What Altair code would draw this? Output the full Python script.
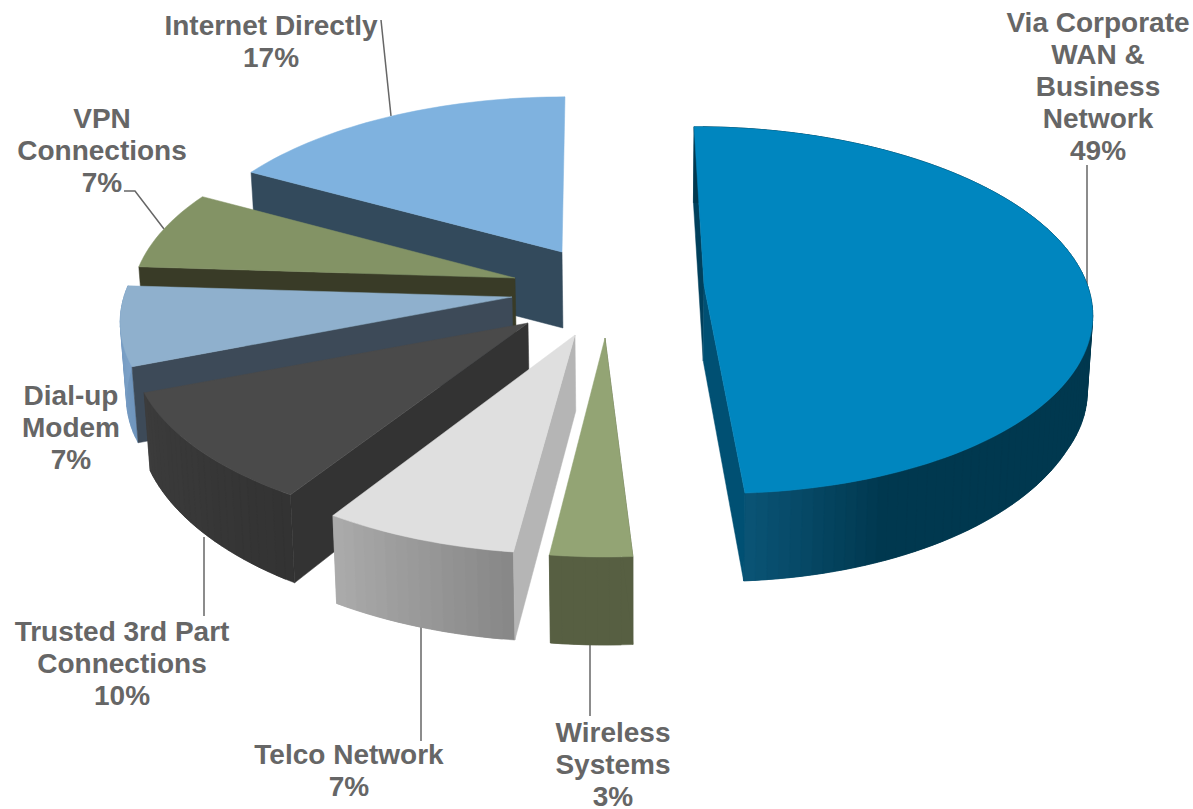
import math
import altair as alt

# Survey shares, clockwise from twelve o'clock
categories = [
    "Via Corporate\nWAN &\nBusiness\nNetwork",
    "Wireless\nSystems",
    "Telco Network",
    "Trusted 3rd Part\nConnections",
    "Dial-up\nModem",
    "VPN\nConnections",
    "Internet Directly",
]
shares = [49, 3, 7, 10, 7, 7, 17]

# Exploded position and shape of each wedge on the page
tips_x = [704, 605, 575, 528, 512, 515, 562]
tips_y = [285, 338, 335, 323, 297, 278, 252]
stretch_x = [0.968, 0.97, 0.993, 0.99, 0.98, 0.96, 0.96]
stretch_y = [1.0, 1.05, 1.05, 1.0, 1.0, 1.0, 0.98]
shear = [-11.3, 0, 4, 0, 0, 0, 3.4]

# Colours: top face, the wall along the first radial edge (the last one for the
# big wedge), and outer wall from first to last angle; far wedges show no outer wall
top_colors = ["#0086BF", "#93A474", "#DFDFDF", "#4A4A4A", "#8FB0CD", "#839365", "#7FB2DF"]
radial_wall = ["#005073", "#575F42", "#B5B5B5", "#333333", "#3D4A58", "#393B27", "#334A5C"]
BACK_WALL = "#00405C"
outer_wall = [
    ["#00384F"] * 9 + ["#0B5577"],
    ["#575F42", "#575F42"],
    ["#888888", "#ACACAC"],
    ["#333333", "#3C3C3C"],
    ["#6F95BD", "#7FA3C9"],
    [],
    [],
]

# Back-to-front painting order
paint_order = [6, 5, 4, 3, 1, 2, 0]

# Perspective of the tilted disc
RADIUS_X, RADIUS_Y, TILT = 396, 180, 0.137
VANISH_X = 640

# Label placement (centre x, first-line y) and leader lines
label_x = [1098, 613, 349, 122, 71, 102, 271]
label_y = [23.5, 733.5, 756, 633, 397, 119.5, 26.5]
LINE_HEIGHT = 32.2
leaders = [
    [(1087, 165), (1087, 285)],
    [(590, 645), (590, 716)],
    [(421, 627), (421, 741)],
    [(204, 537), (204, 616)],
    [(124, 191), (135, 191), (164, 229)],
    [(381, 20), (391, 116)],
]


def rim(i, deg):
    """Page position of the rim of wedge i at a clockwise angle in degrees."""
    a = math.radians(deg)
    w = 1 + TILT * math.cos(a)
    x = tips_x[i] + (stretch_x[i] * RADIUS_X * math.sin(a) + shear[i] * math.cos(a)) / w
    y = tips_y[i] - stretch_y[i] * RADIUS_Y * math.cos(a) / w
    return (x, y)


def below(p):
    """Lower edge of the wedge's thickness under a point of its top face."""
    x, y = p
    depth = min(88, max(76, 78 + (y - 395) * 0.1))
    return (x + (VANISH_X - x) * 0.012, y + depth)


def mix(stops, f):
    """Colour at fraction f along a list of hex stops."""
    pos = min(f, 0.9999) * (len(stops) - 1)
    k = int(pos)
    u = pos - k
    a, b = stops[k], stops[k + 1]
    rgb = [
        round(int(a[j:j + 2], 16) * (1 - u) + int(b[j:j + 2], 16) * u)
        for j in (1, 3, 5)
    ]
    return "#%02X%02X%02X" % tuple(rgb)


def polygon(points, color):
    ring = [list(p) for p in points] + [list(points[0])]
    return {
        "type": "Feature",
        "properties": {"fill": color},
        "geometry": {"type": "Polygon", "coordinates": [ring]},
    }


# Start angle of each wedge, from the cumulative shares
starts = []
running = 0
for s in shares:
    starts.append(running * 3.6)
    running += s

faces = []
for i in paint_order:
    t0 = starts[i]
    t1 = t0 + shares[i] * 3.6
    tip = (tips_x[i], tips_y[i])
    steps = max(6, int((t1 - t0) / 1.5))
    angles = [t0 + (t1 - t0) * k / steps for k in range(steps + 1)]
    arc = [rim(i, t) for t in angles]
    # The big wedge also shows a sliver of its back wall
    if i == 0:
        faces.append(polygon([tip, arc[0], below(arc[0]), below(tip)], BACK_WALL))
    # Outer wall: each shaded strip reaches under the next so no seam shows
    if outer_wall[i]:
        for k in range(steps):
            color = mix(outer_wall[i], k / steps)
            far = min(k + 2, steps)
            band = [arc[j] for j in range(k, far + 1)]
            faces.append(polygon(band + [below(p) for p in reversed(band)], color))
    # Radial wall facing the viewer
    edge = arc[-1] if i == 0 else arc[0]
    faces.append(polygon([tip, edge, below(edge), below(tip)], radial_wall[i]))
    # Top face
    faces.append(polygon([tip] + arc, top_colors[i]))

lines = [
    {"type": "Feature", "properties": {}, "geometry": {"type": "LineString", "coordinates": [list(p) for p in path]}}
    for path in leaders
]

# Labels: one row per text line, the last line carrying the share
label_rows = []
for name, value, lx, ly in zip(categories, shares, label_x, label_y):
    for n, text in enumerate(name.split("\n") + [f"{value}%"]):
        label_rows.append({"text": text, "lon": lx, "lat": ly + n * LINE_HEIGHT})

page = dict(type="identity", scale=1, translate=[0, 0])

wedges = (
    alt.Chart(alt.Data(values=faces))
    .mark_geoshape(strokeWidth=0.5)
    .encode(
        fill=alt.Fill("properties.fill:N", scale=None),
        stroke=alt.Stroke("properties.fill:N", scale=None),
    )
    .project(**page)
)

leader_lines = (
    alt.Chart(alt.Data(values=lines))
    .mark_geoshape(filled=False, stroke="#666666", strokeWidth=1.5)
    .encode(opacity=alt.value(1))
    .project(**page)
)

labels = (
    alt.Chart(alt.Data(values=label_rows))
    .mark_text(font="Liberation Sans", fontWeight="bold", fontSize=28, color="#666666", align="center", baseline="middle")
    .encode(longitude="lon:Q", latitude="lat:Q", text="text:N")
    .project(**page)
)

chart = (
    alt.layer(leader_lines, wedges, labels)
    .properties(width=1193, height=809, padding=0, autosize=alt.AutoSizeParams(type="none"))
    .configure_view(stroke=None)
)

chart.save("out.html", embed_options={"renderer": "svg", "actions": False})
